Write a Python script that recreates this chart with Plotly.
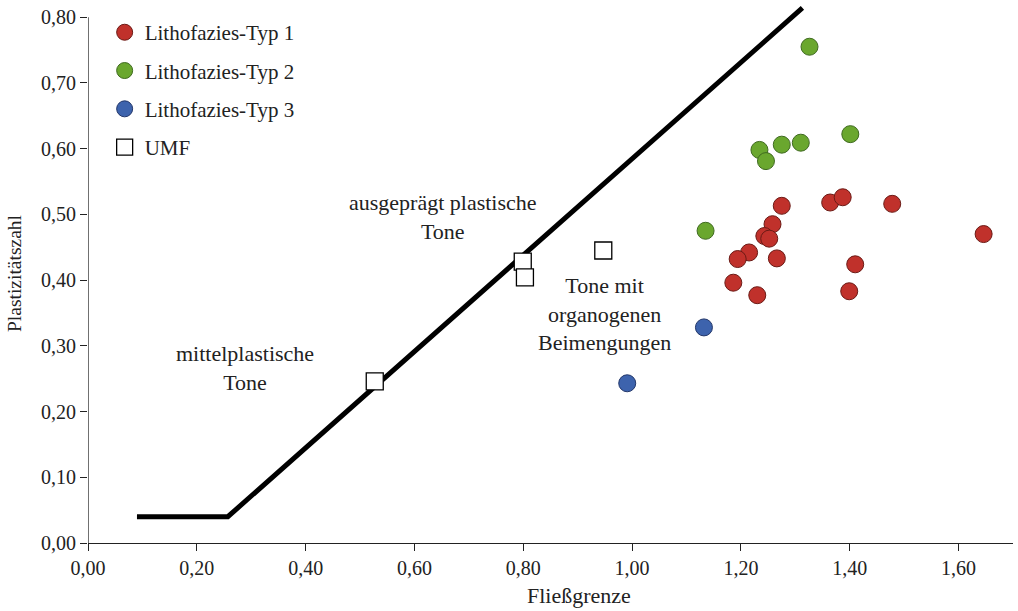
import plotly.graph_objects as go

# Data
typ1_x = [1.275, 1.364, 1.387, 1.478, 1.646, 1.258, 1.243, 1.252, 1.215, 1.194, 1.266, 1.410, 1.186, 1.399, 1.230]
typ1_y = [0.513, 0.518, 0.526, 0.516, 0.470, 0.485, 0.467, 0.463, 0.442, 0.432, 0.433, 0.424, 0.396, 0.383, 0.377]
typ2_x = [1.326, 1.401, 1.234, 1.246, 1.275, 1.310, 1.135]
typ2_y = [0.755, 0.622, 0.598, 0.581, 0.606, 0.609, 0.475]
typ3_x = [1.132, 0.991]
typ3_y = [0.328, 0.243]
umf_x = [0.947, 0.799, 0.803, 0.527]
umf_y = [0.445, 0.428, 0.404, 0.246]
line_x = [0.09, 0.257, 1.313]
line_y = [0.04, 0.04, 0.814]
tick_vals_x = [0, 0.2, 0.4, 0.6, 0.8, 1.0, 1.2, 1.4, 1.6]
tick_vals_y = [0, 0.1, 0.2, 0.3, 0.4, 0.5, 0.6, 0.7, 0.8]

def de(v):
    return f"{v:.2f}".replace(".", ",")

FONT = "Liberation Serif"
INK = "#222"
W, H = 1018, 611
ML, MR, MT, MB = 88, 5, 4, 68

fig = go.Figure()
fig.add_trace(go.Scatter(x=line_x, y=line_y, mode="lines",
                         line=dict(color="black", width=5), showlegend=False, hoverinfo="skip"))
fig.add_trace(go.Scatter(x=typ1_x, y=typ1_y, mode="markers", name="Lithofazies-Typ 1", legendgroup="a",
                         marker=dict(size=17, color="#c0312b", line=dict(color="#6b1a15", width=1))))
fig.add_trace(go.Scatter(x=typ2_x, y=typ2_y, mode="markers", name="Lithofazies-Typ 2", legendgroup="b",
                         marker=dict(size=17, color="#6aa72e", line=dict(color="#3f6a20", width=1))))
fig.add_trace(go.Scatter(x=typ3_x, y=typ3_y, mode="markers", name="Lithofazies-Typ 3", legendgroup="c",
                         marker=dict(size=17, color="#3d63ad", line=dict(color="#23376a", width=1))))
fig.add_trace(go.Scatter(x=umf_x, y=umf_y, mode="markers", name="UMF", legendgroup="d",
                         marker=dict(size=17, symbol="square", color="white", line=dict(color="black", width=1.3))))

fig.add_shape(type="line", xref="x", yref="y", x0=0, x1=0, y0=0, y1=0.8,
              line=dict(color=INK, width=1.3))

ann_font = dict(family=FONT, size=22, color=INK)
fig.add_annotation(x=0.653, y=0.496, text="ausgeprägt plastische<br>Tone", showarrow=False, font=ann_font, align="center")
fig.add_annotation(x=0.288, y=0.266, text="mittelplastische<br>Tone", showarrow=False, font=ann_font, align="center")
fig.add_annotation(x=0.949, y=0.348, text="Tone mit<br>organogenen<br>Beimengungen", showarrow=False, font=ann_font, align="center")
fig.add_annotation(x=(579 - ML) / (W - ML - MR), y=-(595 - (H - MB)) / (H - MB - MT),
                   xref="paper", yref="paper", xanchor="center", yanchor="middle",
                   text="Fließgrenze", showarrow=False,
                   font=dict(family=FONT, size=22, color=INK))

fig.update_layout(
    width=W, height=H,
    margin=dict(l=ML, r=MR, t=MT, b=MB),
    paper_bgcolor="white", plot_bgcolor="white",
    font=dict(family=FONT, size=20, color=INK),
    legend=dict(x=0.018, y=0.985, xanchor="left", yanchor="top", bgcolor="rgba(0,0,0,0)",
                font=dict(family=FONT, size=21, color=INK), tracegroupgap=8),
    xaxis=dict(range=[0, 1.70], tickvals=tick_vals_x, ticktext=[de(v) for v in tick_vals_x],
               showline=True, linecolor=INK, linewidth=1.3, ticks="outside", ticklen=7,
               tickcolor=INK, showgrid=False, zeroline=False, automargin=False,
               tickfont=dict(family=FONT, size=20, color=INK)),
    yaxis=dict(range=[0, 0.82], tickvals=tick_vals_y, ticktext=[de(v) for v in tick_vals_y],
               showline=False, ticks="outside", ticklen=7, tickcolor=INK,
               showgrid=False, zeroline=False, automargin=False,
               tickfont=dict(family=FONT, size=20, color=INK),
               title=dict(text="Plastizitätszahl", font=dict(family=FONT, size=19.5, color=INK), standoff=14)),
)
fig.write_html("out.html", config={"displayModeBar": False},
               post_script="document.body.style.margin='0';document.body.style.overflow='hidden';")
